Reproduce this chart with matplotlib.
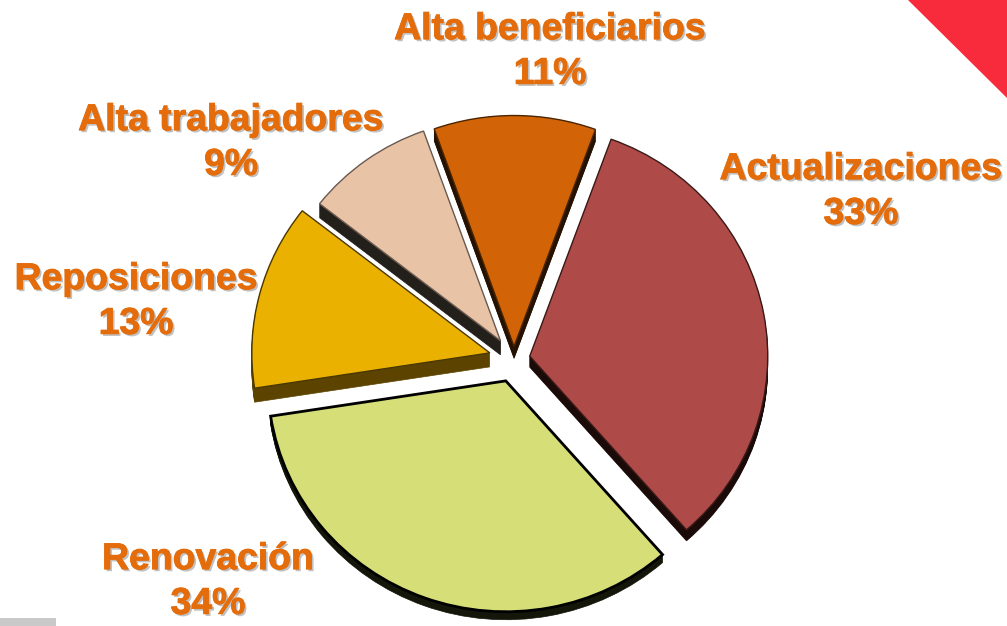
#!/usr/bin/env python3
"""Exploded pie with fake 3D depth, saved as out.png."""

import matplotlib

matplotlib.use("Agg")
import matplotlib.patheffects as pe
import matplotlib.pyplot as plt
from matplotlib.patches import Polygon, Rectangle, Wedge

W, H = 1007, 626

categories = ["Actualizaciones", "Renovación", "Reposiciones", "Alta trabajadores", "Alta beneficiarios"]
values = [33, 34, 13, 9, 11]

colors = ["#AE4A48", "#D6DE78", "#EAB100", "#E8C3A6", "#D26407"]
side_colors = ["#1A0A08", "#14160A", "#5C4400", "#231F1A", "#261203"]
edge_colors = ["#3A1A18", "#000000", "#4A3800", "#6A5A50", "#4A2500"]
edge_widths = [1.0, 2.0, 1.0, 1.0, 1.0]
# pie() takes explode in data units, and the data here is pixels
explode = [16, 24, 25, 23, 13]
depths = [11, 8, 14, 14, 12]
# the perspective in the picture makes the back slices a bit shorter
radius_scale = [1.0, 1.0, 1.0, 0.965, 1.0]

# label centre, in image pixels
label_x = [861, 208, 136, 231, 550]
label_y = [192, 582, 302, 143, 52]

Y_SCALE = 0.97  # the pie is slightly squashed in the picture
RADIUS = 238
CENTER = (514, (H - 359) / Y_SCALE)


def main() -> None:
    fig = plt.figure(figsize=(W / 100, H / 100), dpi=100)
    ax = fig.add_axes([0, 0, 1, 1])

    wedges, _ = ax.pie(
        values,
        colors=colors,
        explode=explode,
        startangle=70,
        counterclock=False,
        center=CENTER,
        radius=RADIUS,
        wedgeprops={"zorder": 5},
    )
    ax.set_aspect("auto")
    ax.set_xlim(0, W)
    ax.set_ylim(0, H / Y_SCALE)
    ax.axis("off")

    # extrude each slice downwards for the 3D side
    for w, side, edge, lw, depth, rs in zip(wedges, side_colors, edge_colors, edge_widths, depths, radius_scale):
        w.set_edgecolor(edge)
        w.set_linewidth(lw)
        w.set_radius(w.r * rs)
        cx, cy = w.center
        for d in range(1, depth + 1):
            ax.add_patch(
                Wedge((cx, cy - d / Y_SCALE), w.r, w.theta1, w.theta2, fc=side, ec=side, lw=0.5, zorder=3)
            )

    # slide decorations
    ax.add_patch(Polygon([(908, H / Y_SCALE), (W, H / Y_SCALE), (W, (H - 98) / Y_SCALE)], fc="#F72B3C", ec="none"))
    ax.add_patch(Rectangle((0, 0), 56, 8 / Y_SCALE, fc="#C9C9C9", ec="none"))

    shadow = [
        pe.SimplePatchShadow(offset=(1.5, -1.5), shadow_rgbFace="#777777", alpha=0.45),
        pe.withStroke(linewidth=0.6, foreground="#E46C0A"),
    ]
    for name, val, x, y in zip(categories, values, label_x, label_y):
        fig.text(
            x / W,
            1 - y / H,
            f"{name}\n{val}%",
            ha="center",
            va="center",
            family="Liberation Sans",
            weight="bold",
            fontsize=26.9,
            color="#E46C0A",
            linespacing=1.36,
            path_effects=shadow,
        )

    fig.savefig("out.png", dpi=100, facecolor="white")
    plt.close(fig)


if __name__ == "__main__":
    main()
